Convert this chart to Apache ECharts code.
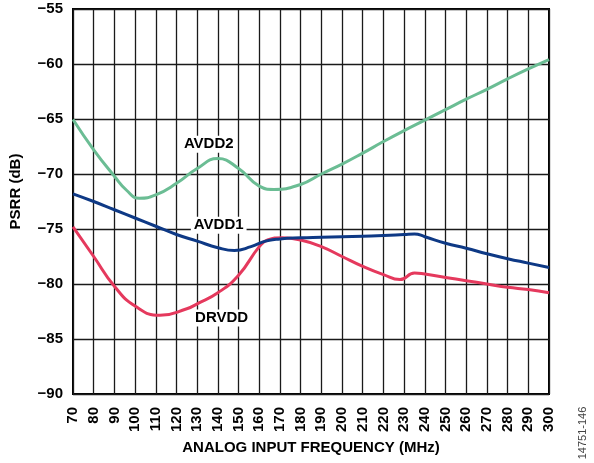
<!DOCTYPE html>
<html>
<head>
<meta charset="utf-8">
<script src="https://cdn.jsdelivr.net/npm/echarts@6/dist/echarts.min.js"></script>
<style>html,body{margin:0;padding:0;background:#fff;}#c{width:594px;height:463px;}</style>
</head>
<body>
<div id="c"></div>
<script>
// Data
var xTicks = [70,80,90,100,110,120,130,140,150,160,170,180,190,200,210,220,230,240,250,260,270,280,290,300];
var yTicks = [-90,-85,-80,-75,-70,-65,-60,-55];

var avdd2Freq = [70,80,90,96,102,110,120,130,140,150,160,167,180,190,200,210,220,230,240,250,260,270,280,290,300];
var avdd2Vals = [-65.05,-67.8,-70.2,-71.5,-72.2,-71.9,-70.85,-69.5,-68.6,-69.5,-71.1,-71.4,-70.95,-70.0,-69.1,-68.1,-67.05,-66.05,-65.1,-64.15,-63.2,-62.3,-61.35,-60.45,-59.6];

var avdd1Freq = [70,80,90,100,110,120,130,140,148,156,163,170,180,190,200,210,220,230,235,240,250,260,270,280,290,300];
var avdd1Vals = [-71.8,-72.5,-73.25,-74.0,-74.75,-75.5,-76.1,-76.7,-76.95,-76.6,-76.1,-75.9,-75.8,-75.75,-75.7,-75.65,-75.6,-75.5,-75.45,-75.7,-76.3,-76.75,-77.25,-77.7,-78.1,-78.5];

var drvddFreq = [70,80,90,100,112,125,130,140,150,160,164,171,180,190,200,210,220,228,235,240,250,260,270,280,290,300];
var drvddVals = [-74.8,-77.5,-80.2,-82.0,-82.85,-82.25,-81.8,-80.8,-79.2,-76.6,-76.0,-75.8,-76.0,-76.6,-77.5,-78.4,-79.15,-79.6,-79.0,-79.1,-79.4,-79.7,-80.0,-80.3,-80.5,-80.8];

var seriesNames = ['AVDD2','AVDD1','DRVDD'];
var labelFreq = [135.6,140.4,141.8];
var labelVals = [-67.3,-74.65,-83.1];

function pairs(f, v){ return f.map(function(x,i){ return [x, v[i]]; }); }
function minusFmt(v){ return String(v).replace('-', '\u2212'); }

var colors = ['#6bbd94','#0e3985','#e5395d'];
var dataSets = [pairs(avdd2Freq, avdd2Vals), pairs(avdd1Freq, avdd1Vals), pairs(drvddFreq, drvddVals)];
var FONT = 'Liberation Sans, Arial, Helvetica, sans-serif';

var chart = echarts.init(document.getElementById('c'), null, {renderer:'canvas'});
chart.setOption({
  animation: false,
  backgroundColor: '#fff',
  grid: {left: 72, right: 45, top: 9, bottom: 69, show: true, borderColor: '#000', borderWidth: 2, backgroundColor: 'transparent'},
  xAxis: {
    type: 'value', min: xTicks[0], max: xTicks[xTicks.length-1], interval: 10,
    name: 'ANALOG INPUT FREQUENCY (MHz)', nameLocation: 'middle', nameGap: 45,
    nameTextStyle: {fontFamily: FONT, fontWeight: 'bold', fontSize: 15, color: '#000'},
    axisLine: {show: false}, axisTick: {show: false},
    axisLabel: {rotate: 90, margin: 13, fontFamily: FONT, fontWeight: 'bold', fontSize: 15, color: '#000'},
    splitLine: {show: true, lineStyle: {color: '#1a1a1a', width: 1.3}}
  },
  yAxis: {
    type: 'value', min: yTicks[0], max: yTicks[yTicks.length-1], interval: 5,
    name: 'PSRR (dB)', nameLocation: 'middle', nameGap: 50,
    nameTextStyle: {fontFamily: FONT, fontWeight: 'bold', fontSize: 15, color: '#000', padding: [0,0,0,20]},
    axisLine: {show: false}, axisTick: {show: false},
    axisLabel: {margin: 10, fontFamily: FONT, fontWeight: 'bold', fontSize: 15, color: '#000', formatter: minusFmt},
    splitLine: {show: true, lineStyle: {color: '#1a1a1a', width: 1.3}}
  },
  series: seriesNames.map(function(n, i){
    return {
      name: n, type: 'line', data: dataSets[i], smooth: 0.5, showSymbol: false,
      lineStyle: {color: colors[i], width: 3}, itemStyle: {color: colors[i]}, z: 3 + (i===1 ? 1 : 0),
      markPoint: {
        symbol: 'rect', symbolSize: 0, silent: true,
        label: {show: true, position: 'inside', formatter: n, fontFamily: FONT, fontWeight: 'bold', fontSize: 15, color: '#000',
                backgroundColor: '#fff', padding: [1,3,1,3]},
        data: [{coord: [labelFreq[i], labelVals[i]]}]
      }
    };
  }),
  graphic: [{
    type: 'text', x: 583, y: 433, rotation: Math.PI/2, originX: 0, originY: 0,
    style: {text: '14751-146', font: '11px ' + FONT, fill: '#444', align: 'center', verticalAlign: 'middle'}
  }]
});
</script>
</body>
</html>
